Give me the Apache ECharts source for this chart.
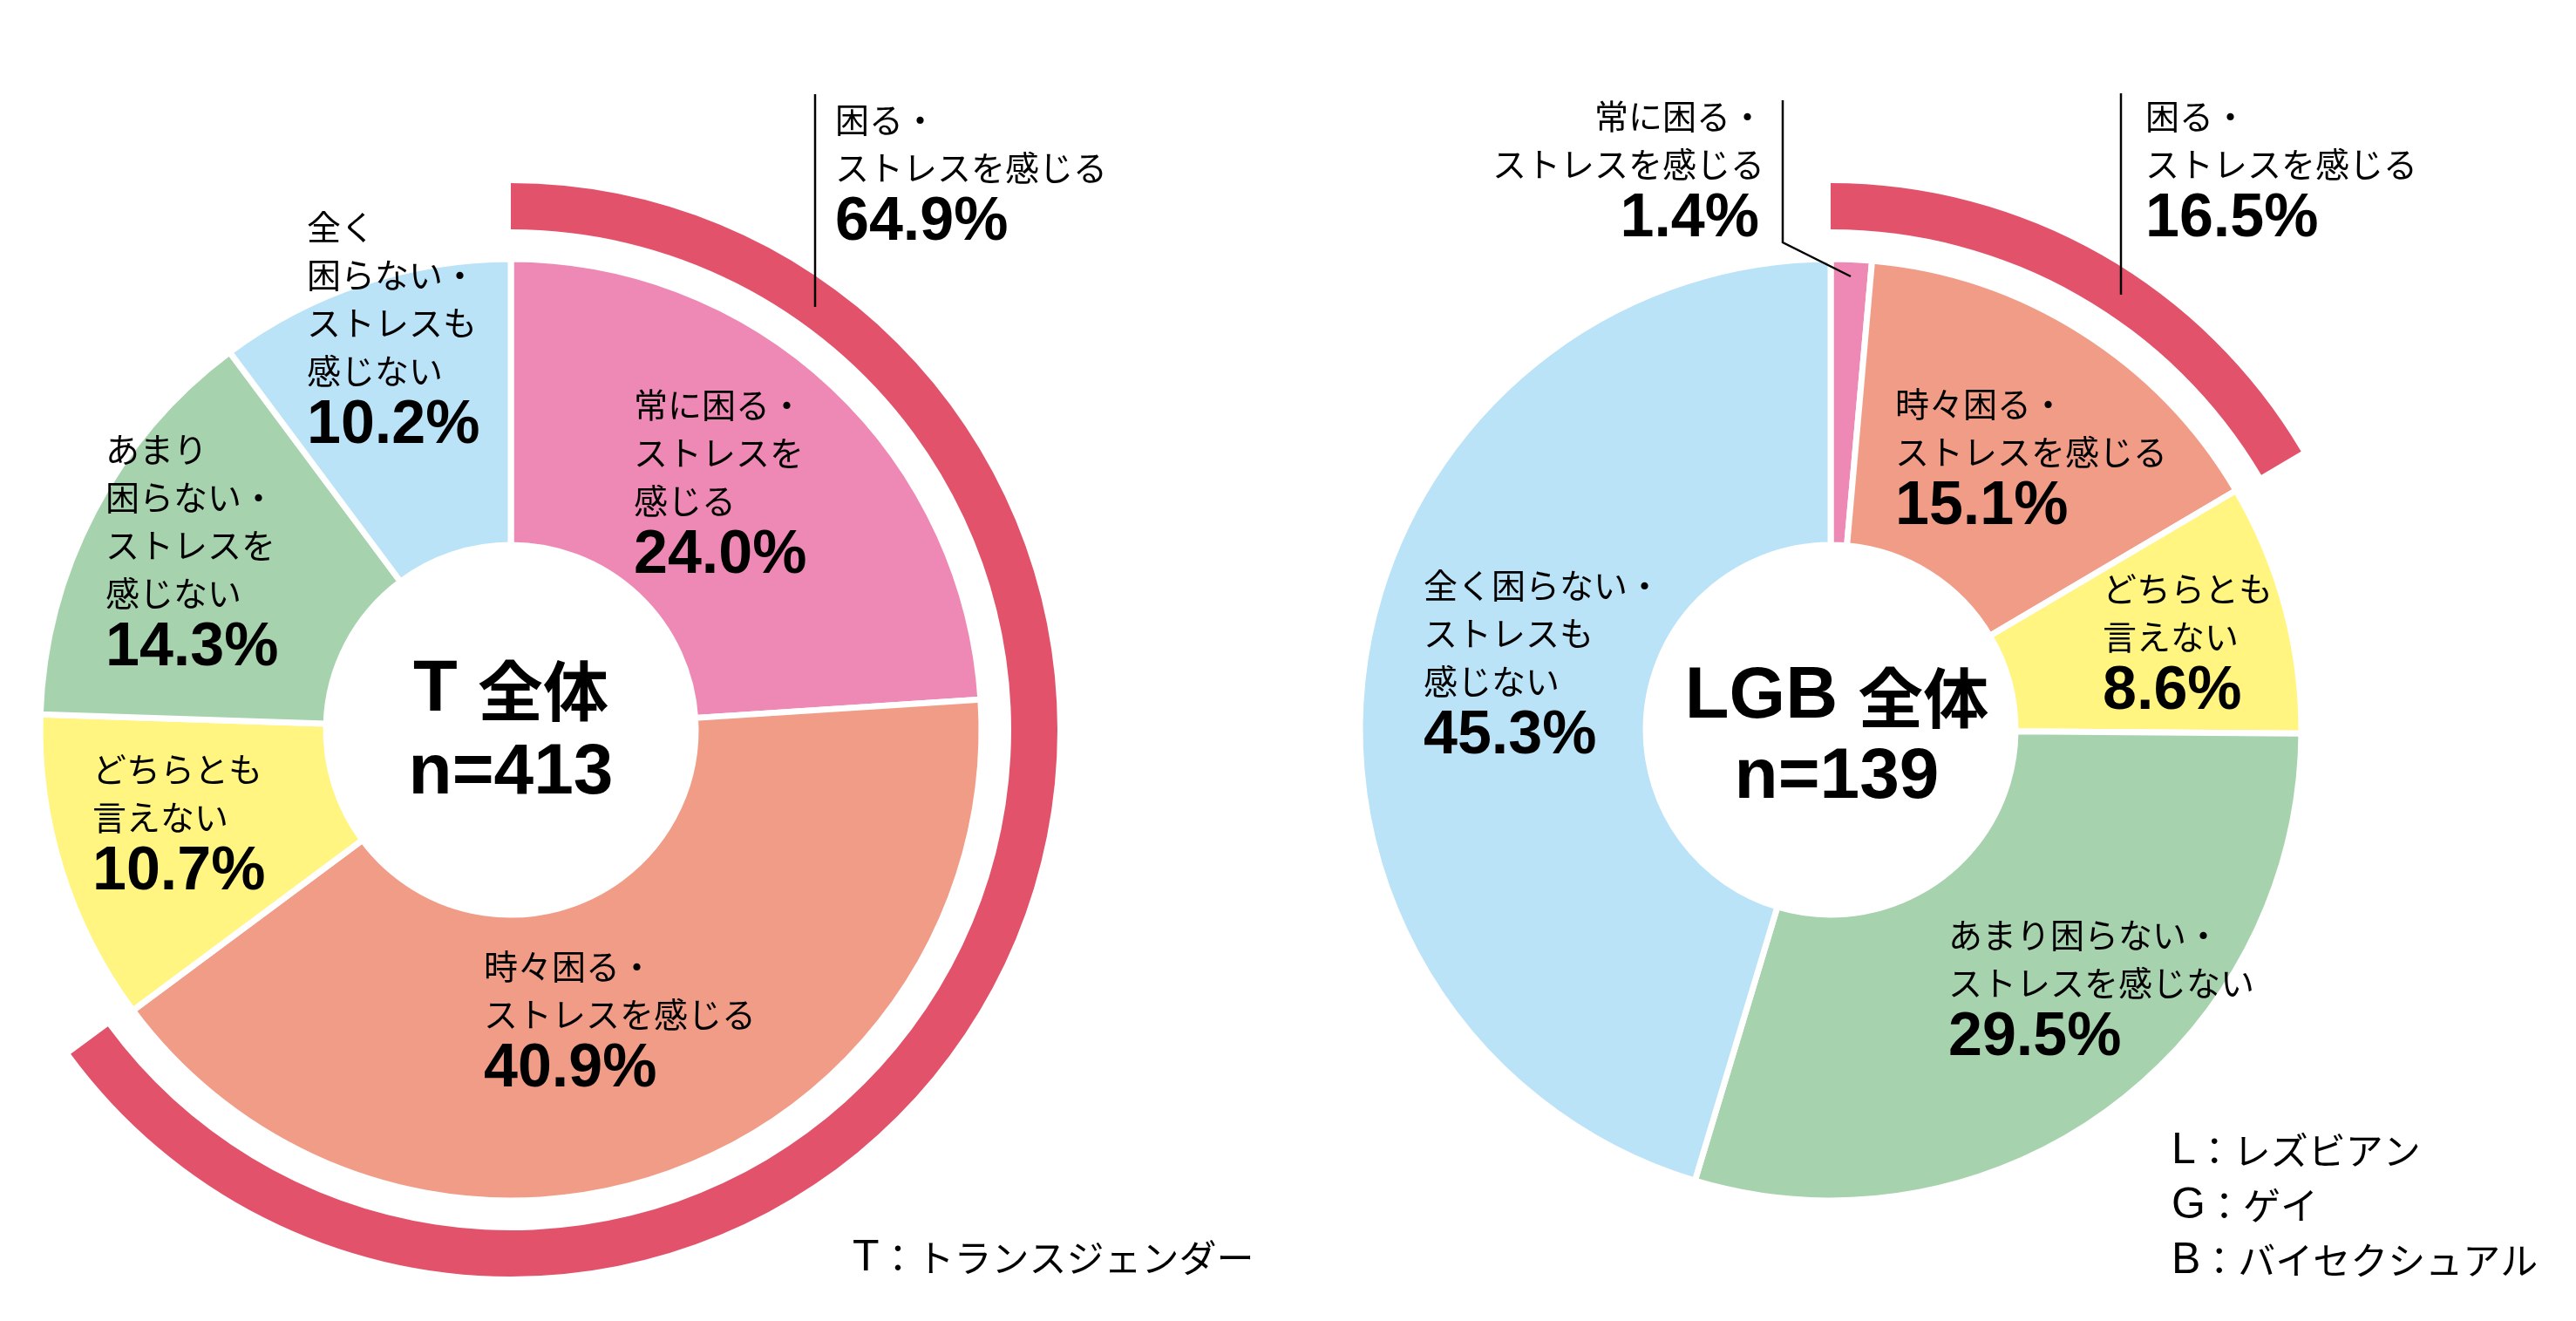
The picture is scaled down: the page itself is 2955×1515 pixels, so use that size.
<!DOCTYPE html>
<html>
<head>
<meta charset="utf-8">
<script src="https://cdn.jsdelivr.net/npm/echarts@6/dist/echarts.min.js"></script>
<style>
html,body{margin:0;padding:0;background:#ffffff;}
#c{width:2955px;height:1515px;}
</style>
</head>
<body>
<div id="c"></div>
<script>
// ---------------- data ----------------
const categories = [
  '常に困る・ストレスを感じる',
  '時々困る・ストレスを感じる',
  'どちらとも言えない',
  'あまり困らない・ストレスを感じない',
  '全く困らない・ストレスも感じない'
];
const valuesT = [24.0, 40.9, 10.7, 14.3, 10.2];
const valuesLGB = [1.4, 15.1, 8.6, 29.5, 45.3];
const stressT = 64.9;      // 困る・ストレスを感じる (T)
const stressLGB = 16.5;    // 困る・ストレスを感じる (LGB)
const groupNames = ['T', 'LGB'];
const groupTotals = [413, 139];
const legendT = [['T', '：トランスジェンダー']];
const legendLGB = [['L', '：レズビアン'], ['G', '：ゲイ'], ['B', '：バイセクシュアル']];

// ---------------- styles / layout ----------------
const sliceColors = ['#EE89B5', '#F19C87', '#FFF580', '#A6D3AD', '#BAE3F8'];
const ringColor = '#E2526A';
const CY = 837;
const CX_T = 586, CX_L = 2100;
const JP = '"Noto Sans CJK JP", sans-serif';
const PCT = '"Liberation Sans", Arial, sans-serif';
const LAT = '"Liberation Sans", Arial, sans-serif';
const LINE_GAP = 55, PCT_GAP = 64;
const ZTOP = 100;

const labelT = [
  {i: 0, x: 727, y: 464, align: 'left', lines: ['常に困る・', 'ストレスを', '感じる']},
  {i: 1, x: 555, y: 1108, align: 'left', lines: ['時々困る・', 'ストレスを感じる']},
  {i: 2, x: 106, y: 882, align: 'left', lines: ['どちらとも', '言えない']},
  {i: 3, x: 121, y: 515, align: 'left', lines: ['あまり', '困らない・', 'ストレスを', '感じない']},
  {i: 4, x: 352, y: 260, align: 'left', lines: ['全く', '困らない・', 'ストレスも', '感じない']}
];
const labelL = [
  {i: 0, x: 2024, px: 2018, y: 133, align: 'right', lines: ['常に困る・', 'ストレスを感じる']},
  {i: 1, x: 2174, y: 463, align: 'left', lines: ['時々困る・', 'ストレスを感じる']},
  {i: 2, x: 2412, y: 675, align: 'left', lines: ['どちらとも', '言えない']},
  {i: 3, x: 2235, y: 1072, align: 'left', lines: ['あまり困らない・', 'ストレスを感じない']},
  {i: 4, x: 1633, y: 671, align: 'left', lines: ['全く困らない・', 'ストレスも', '感じない']}
];
const stressLabelT = {x: 958, y: 137, lines: ['困る・', 'ストレスを感じる']};
const stressLabelL = {x: 2461, y: 133, lines: ['困る・', 'ストレスを感じる']};

function fmt(v) { return v.toFixed(1) + '%'; }

function labelBlock(spec, value, out) {
  spec.lines.forEach((t, k) => {
    out.push({
      type: 'text', x: spec.x, y: spec.y + k * LINE_GAP, silent: true, z: ZTOP,
      style: {text: t, fontSize: 39, fontFamily: JP, fontWeight: 'normal', fill: '#000',
        align: spec.align || 'left', verticalAlign: 'middle'}
    });
  });
  out.push({
    type: 'text', x: spec.px != null ? spec.px : spec.x,
    y: spec.y + (spec.lines.length - 1) * LINE_GAP + PCT_GAP, silent: true, z: ZTOP,
    style: {text: fmt(value), fontSize: 70, fontFamily: PCT, fontWeight: 'bold', fill: '#000',
      align: spec.align || 'left', verticalAlign: 'middle'}
  });
}

const graphics = [];
labelT.forEach(s => labelBlock(s, valuesT[s.i], graphics));
labelL.forEach(s => labelBlock(s, valuesLGB[s.i], graphics));
labelBlock(stressLabelT, stressT, graphics);
labelBlock(stressLabelL, stressLGB, graphics);

// leader lines
graphics.push({type: 'polyline', silent: true, z: ZTOP, shape: {points: [[935, 108], [935, 352]]},
  style: {stroke: '#000', lineWidth: 2.5, fill: null}});
graphics.push({type: 'polyline', silent: true, z: ZTOP, shape: {points: [[2433, 107], [2433, 338]]},
  style: {stroke: '#000', lineWidth: 2.5, fill: null}});
graphics.push({type: 'polyline', silent: true, z: ZTOP, shape: {points: [[2045, 115], [2045, 278], [2123, 317]]},
  style: {stroke: '#000', lineWidth: 2.5, fill: null}});

// center titles
const centers = [[586, 792, 887], [2107, 800, 892]];
groupNames.forEach((g, k) => {
  const c = centers[k];
  graphics.push({
    type: 'text', x: c[0], y: c[1], silent: true, z: ZTOP,
    style: {
      text: '{l|' + g + ' }{c|全体}', align: 'center', verticalAlign: 'middle', fill: '#000',
      rich: {
        l: {fontSize: 83, fontFamily: LAT, fontWeight: 'bold', fill: '#000'},
        c: {fontSize: 75, fontFamily: JP, fontWeight: 'bold', fill: '#000'}
      }
    }
  });
  graphics.push({
    type: 'text', x: c[0], y: c[2], silent: true, z: ZTOP,
    style: {text: 'n=' + groupTotals[k], fontSize: 82, fontFamily: LAT, fontWeight: 'bold',
      fill: '#000', align: 'center', verticalAlign: 'middle'}
  });
});

// legends
function legendLine(x, y, pair) {
  graphics.push({
    type: 'text', x: x, y: y, silent: true, z: ZTOP,
    style: {
      text: '{a|' + pair[0] + '}{b|' + pair[1] + '}', align: 'left', verticalAlign: 'middle', fill: '#000',
      rich: {
        a: {fontSize: 50, fontFamily: LAT, fill: '#000'},
        b: {fontSize: 43, fontFamily: JP, fill: '#000'}
      }
    }
  });
}
legendT.forEach((p, k) => legendLine(978, 1443 + k * 63, p));
legendLGB.forEach((p, k) => legendLine(2491, 1320 + k * 63, p));

// ---------------- series ----------------
function pieSeries(values, cx) {
  return {
    type: 'pie', center: [cx, CY], radius: [212, 540], startAngle: 90, clockwise: true,
    silent: true, animation: false, avoidLabelOverlap: false, z: 2,
    label: {show: false}, labelLine: {show: false},
    emphasis: {disabled: true},
    itemStyle: {borderColor: '#ffffff', borderWidth: 7},
    data: values.map((v, i) => ({name: categories[i], value: v, itemStyle: {color: sliceColors[i]}}))
  };
}
function ringSeries(value, cx) {
  return {
    type: 'pie', center: [cx, CY], radius: [574, 627], startAngle: 90, clockwise: true,
    silent: true, animation: false, avoidLabelOverlap: false, z: 2,
    label: {show: false}, labelLine: {show: false},
    emphasis: {disabled: true},
    itemStyle: {borderWidth: 0},
    data: [
      {name: '困る・ストレスを感じる', value: value, itemStyle: {color: ringColor}},
      {name: '', value: 100 - value, itemStyle: {color: 'rgba(0,0,0,0)'}}
    ]
  };
}

const chart = echarts.init(document.getElementById('c'), null, {renderer: 'canvas'});
chart.setOption({
  backgroundColor: '#ffffff',
  animation: false,
  series: [
    pieSeries(valuesT, CX_T),
    ringSeries(stressT, CX_T),
    pieSeries(valuesLGB, CX_L),
    ringSeries(stressLGB, CX_L)
  ],
  graphic: {elements: graphics}
});
</script>
</body>
</html>
